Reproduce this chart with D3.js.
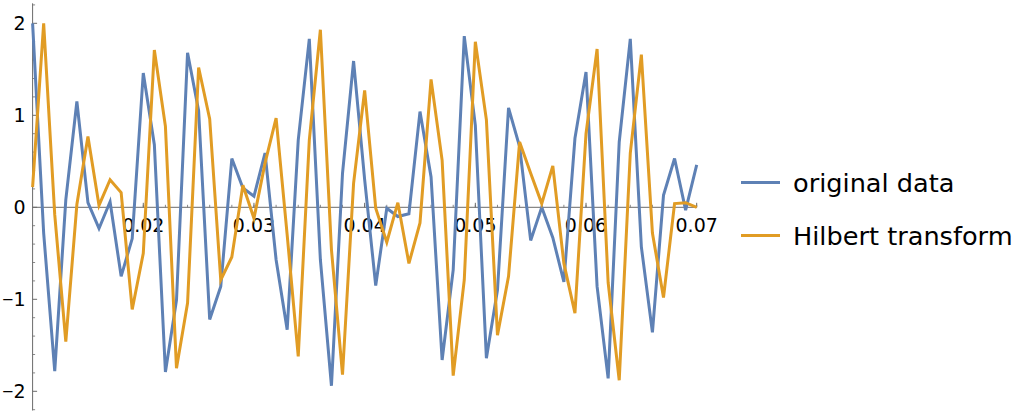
<!doctype html>
<meta charset="utf-8">
<style>
body { margin: 0; background: #fff; }
svg { display: block; font-family: "DejaVu Sans", sans-serif; }
.tick-label { font-size: 19px; fill: #000; }
.tick-label .minus { font-family: "Liberation Sans", sans-serif; }
.legend-label { font-size: 25.6px; fill: #000; }
</style>
<div id="chart"></div>
<script src="https://cdn.jsdelivr.net/npm/d3@7"></script>
<script>
// sample times (s)
var times = [0.010, 0.011, 0.012, 0.013, 0.014, 0.015, 0.016, 0.017, 0.018, 0.019,
    0.020, 0.021, 0.022, 0.023, 0.024, 0.025, 0.026, 0.027, 0.028, 0.029,
    0.030, 0.031, 0.032, 0.033, 0.034, 0.035, 0.036, 0.037, 0.038, 0.039,
    0.040, 0.041, 0.042, 0.043, 0.044, 0.045, 0.046, 0.047, 0.048, 0.049,
    0.050, 0.051, 0.052, 0.053, 0.054, 0.055, 0.056, 0.057, 0.058, 0.059,
    0.060, 0.061, 0.062, 0.063, 0.064, 0.065, 0.066, 0.067, 0.068, 0.069,
    0.070];

var original = [2.0, -0.28, -1.78, 0.08, 1.15, 0.05, -0.23, 0.06, -0.75, -0.34,
    1.46, 0.68, -1.79, -1.01, 1.68, 1.05, -1.22, -0.86, 0.53, 0.21,
    0.12, 0.59, -0.57, -1.33, 0.73, 1.83, -0.57, -1.94, 0.37, 1.59,
    0.30, -0.85, -0.01, -0.10, -0.07, 1.04, 0.33, -1.66, -0.68, 1.86,
    0.89, -1.64, -0.90, 1.08, 0.66, -0.36, 0.0, -0.33, -0.81, 0.75,
    1.47, -0.86, -1.86, 0.71, 1.83, -0.43, -1.36, 0.13, 0.53, -0.03,
    0.46];

var hilbert = [0.22, 2.0, -0.08, -1.46, 0.03, 0.77, 0.02, 0.30, 0.16, -1.11,
    -0.50, 1.71, 0.88, -1.75, -1.04, 1.52, 0.96, -0.79, -0.54, 0.24,
    -0.12, 0.48, 0.97, -0.30, -1.62, 0.73, 1.93, -0.46, -1.82, 0.26,
    1.27, -0.01, -0.38, 0.05, -0.61, -0.17, 1.39, 0.51, -1.83, -0.79,
    1.80, 0.95, -1.39, -0.75, 0.71, 0.37, 0.04, 0.45, -0.61, -1.15,
    0.80, 1.72, -0.82, -1.88, 0.59, 1.66, -0.28, -0.98, 0.04, 0.05,
    0.0];

var seriesNames = ['original data', 'Hilbert transform'];
var seriesColors = ['#5e81b5', '#e19c24'];

var xMajorTicks = [0.02, 0.03, 0.04, 0.05, 0.06, 0.07];
var yMajorTicks = [-2, -1, 0, 1, 2];
</script>
<script>
var width = 1026;
var height = 416;

var svg = d3.select('#chart').append('svg')
    .attr('width', width)
    .attr('height', height);

var x = d3.scaleLinear()
    .domain([0.01, 0.07])
    .range([32.6, 696.7]);

var y = d3.scaleLinear()
    .domain([-2.2, 2.2])
    .range([409.7, 4.9]);

// axes drawn through the origin, Mathematica style
var axisColor = '#6b6b6b';

// x axis at y = 0
svg.append('line')
    .attr('x1', x(0.01)).attr('x2', x(0.07))
    .attr('y1', y(0)).attr('y2', y(0))
    .attr('stroke', axisColor).attr('stroke-width', 1);

var xMinor = d3.range(6, 36).map(function (i) { return i * 0.002; })
    .filter(function (v) { return v > 0.0105 && v < 0.0705; });
svg.selectAll('line.xminor').data(xMinor).enter().append('line')
    .attr('class', 'xminor')
    .attr('x1', function (d) { return x(d); })
    .attr('x2', function (d) { return x(d); })
    .attr('y1', y(0)).attr('y2', y(0) - 2.5)
    .attr('stroke', axisColor).attr('stroke-width', 0.8);

svg.selectAll('line.xmajor').data(xMajorTicks).enter().append('line')
    .attr('class', 'xmajor')
    .attr('x1', function (d) { return x(d); })
    .attr('x2', function (d) { return x(d); })
    .attr('y1', y(0)).attr('y2', y(0) - 4.5)
    .attr('stroke', axisColor).attr('stroke-width', 1);

svg.selectAll('text.xlabel').data(xMajorTicks).enter().append('text')
    .attr('class', 'tick-label xlabel')
    .attr('x', function (d) { return x(d); })
    .attr('y', y(0) + 24.5)
    .attr('text-anchor', 'middle')
    .text(function (d) { return d3.format('.2f')(d); });

// y axis at x = 0.01
svg.append('line')
    .attr('x1', x(0.01)).attr('x2', x(0.01))
    .attr('y1', 3.3).attr('y2', 410.5)
    .attr('stroke', axisColor).attr('stroke-width', 1);

var yMinor = d3.range(-11, 12).map(function (i) { return i * 0.2; })
    .filter(function (v) { return Math.abs(v - Math.round(v)) > 1e-6; });
svg.selectAll('line.yminor').data(yMinor).enter().append('line')
    .attr('class', 'yminor')
    .attr('x1', x(0.01)).attr('x2', x(0.01) + 2.5)
    .attr('y1', function (d) { return y(d); })
    .attr('y2', function (d) { return y(d); })
    .attr('stroke', axisColor).attr('stroke-width', 0.8);

svg.selectAll('line.ymajor').data(yMajorTicks).enter().append('line')
    .attr('class', 'ymajor')
    .attr('x1', x(0.01)).attr('x2', x(0.01) + 4.5)
    .attr('y1', function (d) { return y(d); })
    .attr('y2', function (d) { return y(d); })
    .attr('stroke', axisColor).attr('stroke-width', 1);

var yLabels = svg.selectAll('text.ylabel').data(yMajorTicks).enter().append('text')
    .attr('class', 'tick-label ylabel')
    .attr('x', 25.5)
    .attr('y', function (d) { return y(d); })
    .attr('dy', '0.36em')
    .attr('text-anchor', 'end');
// narrower minus sign so the negative labels fit at the left edge
yLabels.filter(function (d) { return d < 0; })
    .append('tspan').attr('class', 'minus').text('\u2212');
yLabels.append('tspan')
    .text(function (d) { return String(Math.abs(d)); });

// series lines
var line = d3.line()
    .x(function (d) { return x(d[0]); })
    .y(function (d) { return y(d[1]); });

[original, hilbert].forEach(function (values, k) {
    svg.append('path')
        .datum(d3.zip(times, values))
        .attr('fill', 'none')
        .attr('stroke', seriesColors[k])
        .attr('stroke-width', 3)
        .attr('d', line);
});

// legend
var legend = svg.selectAll('g.legend').data(seriesNames).enter().append('g')
    .attr('class', 'legend')
    .attr('transform', function (d, i) { return 'translate(741,' + (182.5 + i * 53) + ')'; });
legend.append('line')
    .attr('x1', 0).attr('x2', 39)
    .attr('stroke', function (d, i) { return seriesColors[i]; })
    .attr('stroke-width', 3);
legend.append('text')
    .attr('class', 'legend-label')
    .attr('x', 52)
    .attr('y', 9)
    .text(function (d) { return d; });
</script>
